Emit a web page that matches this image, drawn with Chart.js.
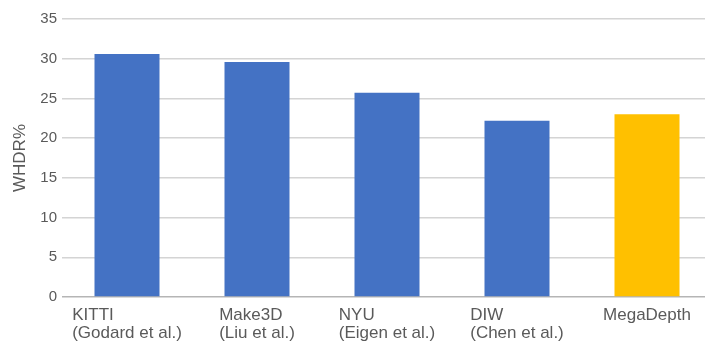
<!DOCTYPE html>
<html>
<head>
<meta charset="utf-8">
<script src="https://cdn.jsdelivr.net/npm/chart.js@4/dist/chart.umd.min.js"></script>
<style>
  html, body { margin: 0; padding: 0; background: #fff; }
  #wrap { width: 705px; height: 343px; overflow: hidden; position: relative; }
  #box { width: 720px; height: 343px; position: absolute; left: 0; top: 0; }
</style>
</head>
<body>
<div id="wrap"><div id="box"><canvas id="c"></canvas></div></div>
<script>
// Category labels (one array entry per line)
const categories = [
  ['KITTI', '(Godard et al.)'],
  ['Make3D', '(Liu et al.)'],
  ['NYU', '(Eigen et al.)'],
  ['DIW', '(Chen et al.)'],
  ['MegaDepth']
];
// WHDR% per training set
const whdrValues = [30.6, 29.6, 25.7, 22.2, 23.0];
const barColors = ['#4472C4', '#4472C4', '#4472C4', '#4472C4', '#FFC000'];
const yTicks = [0, 5, 10, 15, 20, 25, 30, 35];

const textColor = '#5a5a5a';
const fontFamily = '"Liberation Sans", Arial, sans-serif';

// Multi-line category labels: block centred under the bar, lines left-aligned
const categoryLabels = {
  id: 'categoryLabels',
  afterDraw(chart) {
    const ctx = chart.ctx;
    const xs = chart.scales.x;
    const bottom = chart.chartArea.bottom;
    ctx.save();
    ctx.font = '17px ' + fontFamily;
    ctx.fillStyle = textColor;
    ctx.textAlign = 'left';
    ctx.textBaseline = 'alphabetic';
    categories.forEach((lines, i) => {
      const cx = xs.getPixelForValue(i);
      const w = Math.max(...lines.map(l => ctx.measureText(l).width));
      const x0 = cx - w / 2;
      lines.forEach((line, j) => {
        ctx.fillText(line, x0, bottom + 23 + j * 18);
      });
    });
    ctx.restore();
  }
};

new Chart(document.getElementById('c'), {
  type: 'bar',
  data: {
    labels: categories.map(l => l.join(' ')),
    datasets: [{
      data: whdrValues,
      backgroundColor: barColors,
      borderWidth: 0,
      barPercentage: 0.5,
      categoryPercentage: 1.0
    }]
  },
  options: {
    responsive: true,
    maintainAspectRatio: false,
    animation: false,
    layout: { padding: { top: 19, right: 8, bottom: 38, left: 0 } },
    plugins: { legend: { display: false }, tooltip: { enabled: false } },
    scales: {
      x: {
        grid: { display: false },
        border: { display: false },
        ticks: { display: false }
      },
      y: {
        min: 0,
        max: 35,
        afterBuildTicks(scale) { scale.ticks = yTicks.map(v => ({ value: v })); },
        afterFit(scale) { scale.width = 62; },
        border: { display: false },
        grid: {
          drawTicks: false,
          lineWidth: 1.5,
          color: ctx => ctx.tick && ctx.tick.value === 0 ? '#b5b5b5' : '#d4d4d4'
        },
        ticks: {
          padding: 5,
          color: textColor,
          font: { family: fontFamily, size: 15 }
        },
        title: {
          display: true,
          text: 'WHDR%',
          color: textColor,
          font: { family: fontFamily, size: 17 },
          padding: { top: 10, bottom: 0 }
        }
      }
    }
  },
  plugins: [categoryLabels]
});
</script>
</body>
</html>
